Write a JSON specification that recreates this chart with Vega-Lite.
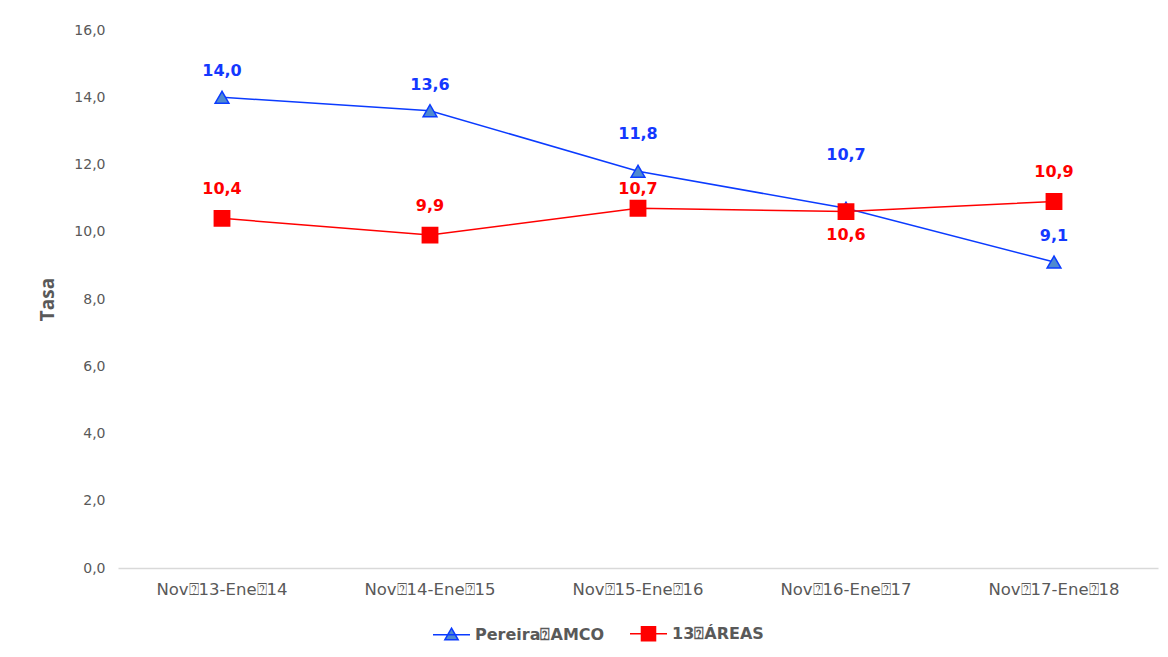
{
  "$schema": "https://vega.github.io/schema/vega-lite/v6.json",
  "width": 1040,
  "height": 538,
  "autosize": {"type": "none"},
  "padding": {"left": 118, "top": 30, "right": 10, "bottom": 89},
  "background": "white",
  "data": {
    "values": [
      {"periodo": "Nov⍰13-Ene⍰14", "serie": "Pereira⍰AMCO", "tasa": 14.0},
      {"periodo": "Nov⍰14-Ene⍰15", "serie": "Pereira⍰AMCO", "tasa": 13.6},
      {"periodo": "Nov⍰15-Ene⍰16", "serie": "Pereira⍰AMCO", "tasa": 11.8},
      {"periodo": "Nov⍰16-Ene⍰17", "serie": "Pereira⍰AMCO", "tasa": 10.7},
      {"periodo": "Nov⍰17-Ene⍰18", "serie": "Pereira⍰AMCO", "tasa": 9.1},
      {"periodo": "Nov⍰13-Ene⍰14", "serie": "13⍰ÁREAS", "tasa": 10.4},
      {"periodo": "Nov⍰14-Ene⍰15", "serie": "13⍰ÁREAS", "tasa": 9.9},
      {"periodo": "Nov⍰15-Ene⍰16", "serie": "13⍰ÁREAS", "tasa": 10.7},
      {"periodo": "Nov⍰16-Ene⍰17", "serie": "13⍰ÁREAS", "tasa": 10.6},
      {"periodo": "Nov⍰17-Ene⍰18", "serie": "13⍰ÁREAS", "tasa": 10.9}
    ]
  },
  "encoding": {
    "x": {
      "field": "periodo", "type": "ordinal", "sort": null,
      "scale": {"type": "band", "paddingInner": 0, "paddingOuter": 0},
      "axis": {
        "title": null, "labelAngle": 0, "ticks": false, "domainColor": "#D9D9D9", "domainWidth": 1.5,
        "labelFont": "DejaVu Sans", "labelFontSize": 16.5, "labelColor": "#595959", "labelPadding": 13
      }
    },
    "y": {
      "field": "tasa", "type": "quantitative",
      "scale": {"domain": [0, 16], "nice": false},
      "axis": {
        "title": "Tasa", "values": [0, 2, 4, 6, 8, 10, 12, 14, 16], "format": ".1f",
        "grid": false, "domain": false, "ticks": false,
        "labelFont": "DejaVu Sans", "labelFontSize": 14, "labelColor": "#595959", "labelPadding": 13,
        "titleFont": "Open Sans", "titleFontSize": 19, "titleFontWeight": "bold", "titleColor": "#595959", "titlePadding": 16
      }
    }
  },
  "layer": [
    {
      "mark": {"type": "line", "strokeWidth": 1.5},
      "encoding": {
        "color": {"field": "serie", "type": "nominal", "scale": {"domain": ["Pereira⍰AMCO", "13⍰ÁREAS"], "range": ["#0B3BFF", "#FF0000"]}, "legend": null}
      }
    },
    {
      "transform": [{"filter": "datum.serie == 'Pereira⍰AMCO'"}],
      "mark": {"type": "point", "shape": "triangle-up", "filled": true, "fill": "#4F8AD0", "stroke": "#0B3BFF", "strokeWidth": 1.5, "opacity": 1, "size": 190}
    },
    {
      "transform": [{"filter": "datum.serie == '13⍰ÁREAS'"}],
      "mark": {"type": "point", "shape": "square", "filled": true, "fill": "#FF0000", "stroke": "#FF0000", "opacity": 1, "size": 220}
    },
    {
      "transform": [{"filter": "datum.serie == 'Pereira⍰AMCO' && datum.tasa != 11.8 && datum.tasa != 10.7"}],
      "mark": {"type": "text", "dy": -26, "baseline": "middle", "fontWeight": "bold", "fontSize": 16, "color": "#1438FF"},
      "encoding": {"text": {"field": "tasa", "type": "quantitative", "format": ".1f"}}
    },
    {
      "transform": [{"filter": "datum.serie == 'Pereira⍰AMCO' && datum.tasa == 11.8"}],
      "mark": {"type": "text", "dy": -37, "baseline": "middle", "fontWeight": "bold", "fontSize": 16, "color": "#1438FF"},
      "encoding": {"text": {"field": "tasa", "type": "quantitative", "format": ".1f"}}
    },
    {
      "transform": [{"filter": "datum.serie == 'Pereira⍰AMCO' && datum.tasa == 10.7"}],
      "mark": {"type": "text", "dy": -53, "baseline": "middle", "fontWeight": "bold", "fontSize": 16, "color": "#1438FF"},
      "encoding": {"text": {"field": "tasa", "type": "quantitative", "format": ".1f"}}
    },
    {
      "transform": [{"filter": "datum.serie == '13⍰ÁREAS' && datum.tasa != 10.7 && datum.tasa != 10.6"}],
      "mark": {"type": "text", "dy": -29, "baseline": "middle", "fontWeight": "bold", "fontSize": 16, "color": "#FF0000"},
      "encoding": {"text": {"field": "tasa", "type": "quantitative", "format": ".1f"}}
    },
    {
      "transform": [{"filter": "datum.serie == '13⍰ÁREAS' && datum.tasa == 10.7"}],
      "mark": {"type": "text", "dy": -19, "baseline": "middle", "fontWeight": "bold", "fontSize": 16, "color": "#FF0000"},
      "encoding": {"text": {"field": "tasa", "type": "quantitative", "format": ".1f"}}
    },
    {
      "transform": [{"filter": "datum.serie == '13⍰ÁREAS' && datum.tasa == 10.6"}],
      "mark": {"type": "text", "dy": 23, "baseline": "middle", "fontWeight": "bold", "fontSize": 16, "color": "#FF0000"},
      "encoding": {"text": {"field": "tasa", "type": "quantitative", "format": ".1f"}}
    },
    {
      "transform": [{"filter": "datum.tasa < 0"}],
      "mark": {"type": "point", "filled": true, "opacity": 1, "strokeWidth": 1.5},
      "encoding": {
        "shape": {"field": "serie", "type": "nominal", "scale": {"domain": ["Pereira⍰AMCO", "13⍰ÁREAS"], "range": ["M-1,0H1M0,-0.35L0.36,0.28H-0.36Z", "M-1,0H1M-0.38,-0.38H0.38V0.38H-0.38Z"]}},
        "fill": {"field": "serie", "type": "nominal", "scale": {"domain": ["Pereira⍰AMCO", "13⍰ÁREAS"], "range": ["#4F8AD0", "#FF0000"]}},
        "stroke": {"field": "serie", "type": "nominal", "scale": {"domain": ["Pereira⍰AMCO", "13⍰ÁREAS"], "range": ["#0B3BFF", "#FF0000"]}},
        "size": {"value": 1369}
      }
    }
  ],
  "resolve": {"scale": {"color": "independent"}},
  "config": {
    "locale": {"number": {"decimal": ",", "thousands": ".", "grouping": [3], "currency": ["", " €"]}},
    "view": {"stroke": null},
    "font": "DejaVu Sans",
    "legend": {
      "orient": "none", "direction": "horizontal", "legendX": 314, "legendY": 584,
      "title": null, "padding": 0, "symbolSize": 1369, "symbolStrokeWidth": 1.5, "labelOffset": 4, "columnPadding": 22,
      "labelFont": "DejaVu Sans", "labelFontSize": 16, "labelFontWeight": "bold", "labelColor": "#595959", "labelLimit": 300
    }
  }
}
